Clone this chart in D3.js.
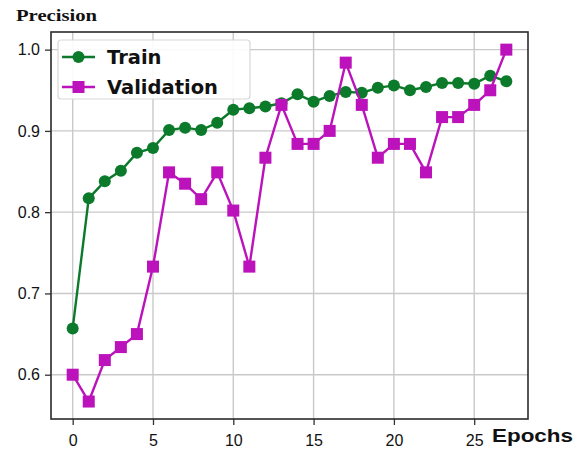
<!DOCTYPE html>
<html><head><meta charset="utf-8">
<script src="https://cdn.jsdelivr.net/npm/d3@7"></script>
<style>html,body{margin:0;padding:0;background:#fff;}svg{display:block;}</style>
</head><body>
<script>
const epochs = d3.range(0, 28);
const trainValues = [0.657,0.817,0.838,0.851,0.873,0.879,0.901,0.904,0.901,0.910,0.926,0.928,0.930,0.934,0.945,0.936,0.943,0.948,0.947,0.953,0.956,0.950,0.954,0.959,0.959,0.958,0.968,0.961];
const validationValues = [0.600,0.567,0.618,0.634,0.650,0.733,0.849,0.835,0.816,0.849,0.802,0.733,0.867,0.932,0.884,0.884,0.900,0.984,0.932,0.867,0.884,0.884,0.849,0.917,0.917,0.932,0.950,1.000];
const xTicks = [0,5,10,15,20,25];
const yTicks = [0.6,0.7,0.8,0.9,1.0];
const seriesNames = ["Train","Validation"];

const W=574,H=449;
const pL=51,pR=528,pT=32,pB=419;
const svg=d3.select("body").append("svg").attr("width",W).attr("height",H);
const x=d3.scaleLinear().domain([-1.35,28.35]).range([pL,pR]);
const y=d3.scaleLinear().domain([0.5455,1.0217]).range([pB,pT]);
const green="#0b7a2a", mag="#bb12bb";

// grid
const grid=svg.append("g").attr("stroke","#c9c9c9").attr("stroke-width",1.4);
xTicks.forEach(t=>grid.append("line").attr("x1",x(t)).attr("x2",x(t)).attr("y1",pT).attr("y2",pB));
yTicks.forEach(t=>grid.append("line").attr("x1",pL).attr("x2",pR).attr("y1",y(t)).attr("y2",y(t)));

// axes
const xAxis=d3.axisBottom(x).tickValues(xTicks).tickFormat(d3.format("d")).tickSize(6).tickPadding(6);
const yAxis=d3.axisLeft(y).tickValues(yTicks).tickFormat(d3.format(".1f")).tickSize(6).tickPadding(5);
const gx=svg.append("g").attr("transform",`translate(0,${pB})`).call(xAxis);
const gy=svg.append("g").attr("transform",`translate(${pL},0)`).call(yAxis);
[gx,gy].forEach(g=>{
  g.select(".domain").remove();
  g.selectAll(".tick line").attr("stroke","#333").attr("stroke-width",1.3);
  g.selectAll(".tick text").attr("fill","#111").style("font-family","'Liberation Sans',Arial,sans-serif").style("font-size","16px");
});
gx.selectAll(".tick text").attr("dy","0.95em");
svg.append("rect").attr("x",pL).attr("y",pT).attr("width",pR-pL).attr("height",pB-pT)
  .attr("fill","none").attr("stroke","#2a2a2a").attr("stroke-width",1.6);

// lines
const line=d3.line().x((d,i)=>x(epochs[i])).y(d=>y(d));
function drawSeries(vals,color,shape){
  svg.append("path").datum(vals).attr("d",line).attr("fill","none").attr("stroke",color).attr("stroke-width",2.4);
  const g=svg.append("g");
  if(shape==="circle"){
    g.selectAll("circle").data(vals).join("circle").attr("cx",(d,i)=>x(epochs[i])).attr("cy",d=>y(d)).attr("r",6).attr("fill",color);
  } else {
    g.selectAll("rect").data(vals).join("rect").attr("x",(d,i)=>x(epochs[i])-6).attr("y",d=>y(d)-6).attr("width",12).attr("height",12).attr("fill",color);
  }
}
drawSeries(trainValues,green,"circle");
drawSeries(validationValues,mag,"square");

// legend
const lg=svg.append("g");
lg.append("rect").attr("x",58).attr("y",40).attr("width",192).attr("height",59).attr("rx",3)
  .attr("fill","#fff").attr("fill-opacity",0.9).attr("stroke","#d8d8d8").attr("stroke-width",1.2);
[[seriesNames[0],green,"circle",57],[seriesNames[1],mag,"square",87]].forEach(([name,c,s,yy])=>{
  lg.append("line").attr("x1",62).attr("x2",95).attr("y1",yy).attr("y2",yy).attr("stroke",c).attr("stroke-width",2.4);
  if(s==="circle") lg.append("circle").attr("cx",78.5).attr("cy",yy).attr("r",6).attr("fill",c);
  else lg.append("rect").attr("x",72.5).attr("y",yy-6).attr("width",12).attr("height",12).attr("fill",c);
  lg.append("text").attr("x",107).attr("y",yy+7).text(name)
    .style("font-family","'DejaVu Sans',sans-serif").style("font-weight","bold").style("font-size","19.5px").attr("fill","#111");
});

// titles
svg.append("text").attr("x",16).attr("y",21).text("Precision").attr("textLength",81).attr("lengthAdjust","spacingAndGlyphs")
  .style("font-family","'Liberation Serif','Times New Roman',serif").style("font-weight","bold").style("font-size","16px").attr("fill","#111");
svg.append("text").attr("x",492).attr("y",442).text("Epochs").attr("textLength",81).attr("lengthAdjust","spacingAndGlyphs")
  .style("font-family","'Liberation Sans',Arial,sans-serif").style("font-weight","bold").style("font-size","18px").attr("fill","#111");
</script>
</body></html>
